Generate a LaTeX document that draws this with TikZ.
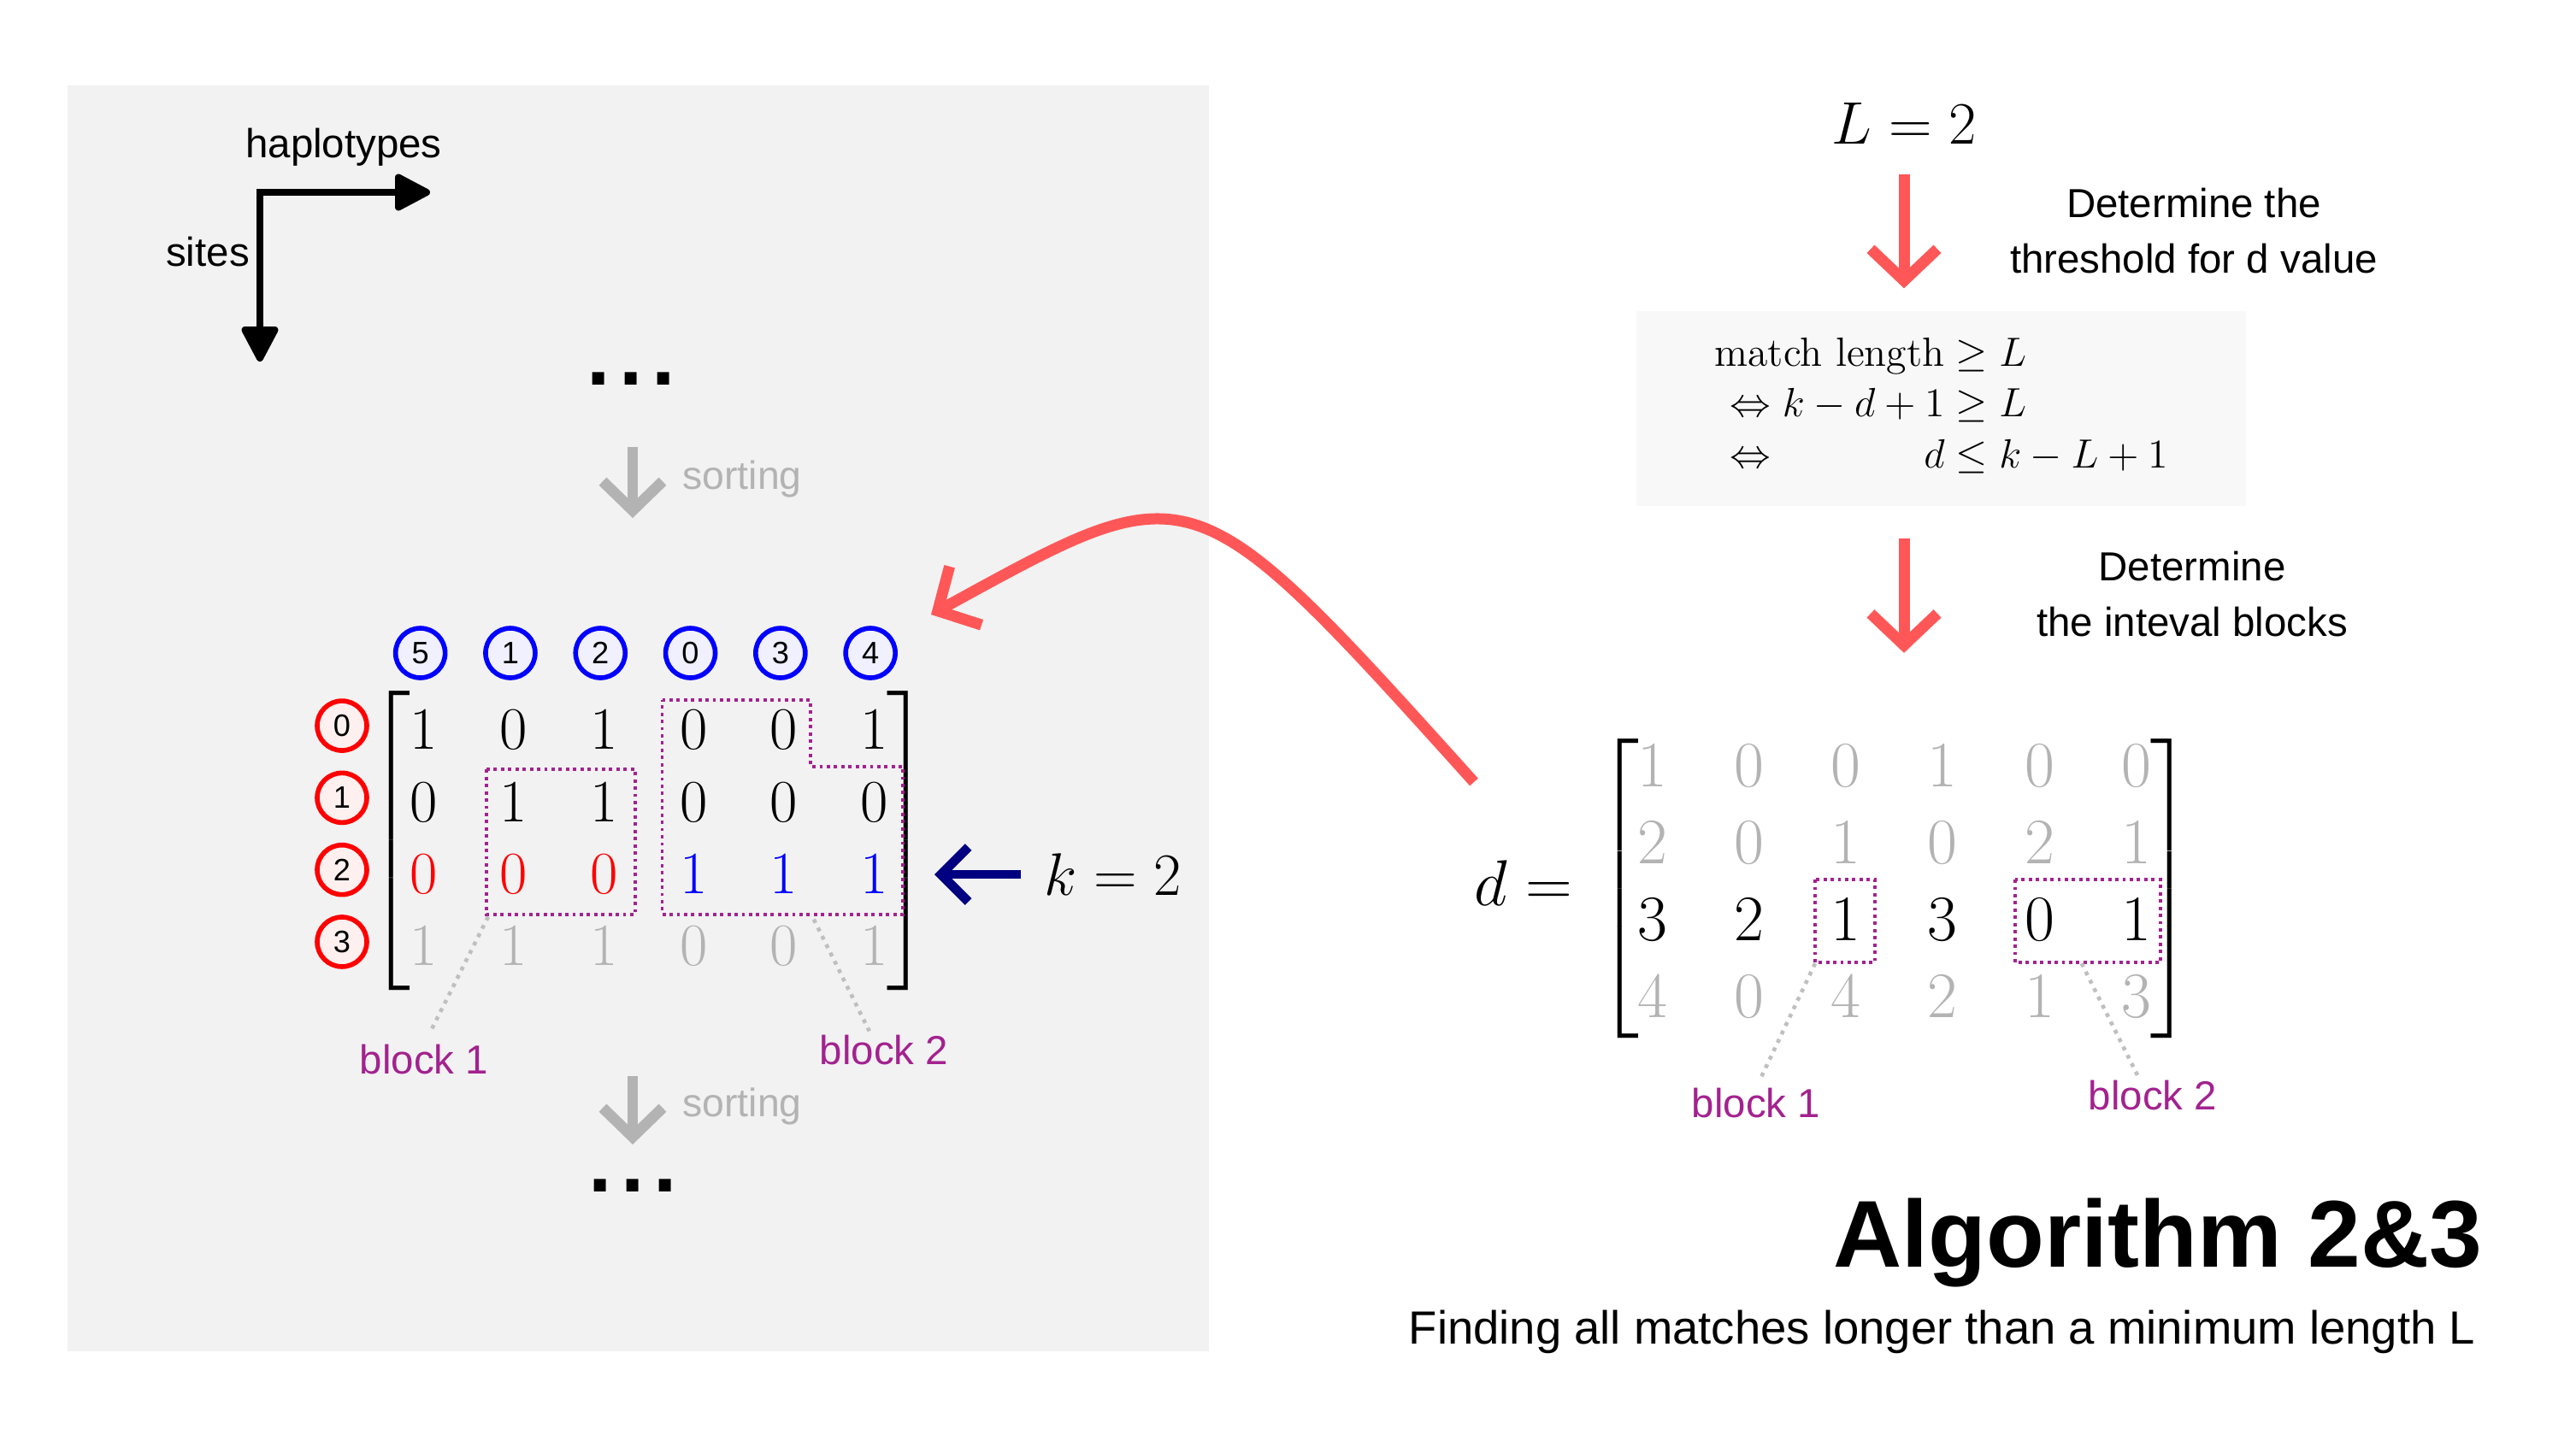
\RequirePackage{fix-cm}
\documentclass[tikz,border=0pt]{standalone}
\usepackage{amsmath}
\usepackage{fontspec}
\setsansfont{Liberation Sans}
\usetikzlibrary{arrows.meta,calc,matrix,positioning}

\definecolor{panelgray}{HTML}{F2F2F2}
\definecolor{formulagray}{HTML}{F8F8F8}
\definecolor{salmon}{HTML}{FF5757}
\definecolor{lightgray}{HTML}{B3B3B3}
\definecolor{leadergray}{HTML}{BFBFBF}
\definecolor{blockpurple}{HTML}{A3228F}
\definecolor{darknavy}{HTML}{000080}

\tikzset{
	sanstext/.style={font=\sffamily\fontsize{13.5}{18.5}\selectfont, align=center, inner sep=0pt},
	sorttext/.style={font=\sffamily\fontsize{13.2}{16}\selectfont, text=lightgray, inner sep=0pt},
	blocktext/.style={font=\sffamily\fontsize{13.5}{16}\selectfont, text=blockpurple, inner sep=0pt},
	mathbig/.style={font=\fontsize{20}{24}\selectfont, inner sep=0pt},
	dbig/.style={font=\fontsize{21.6}{26}\selectfont, inner sep=0pt},
	colcirc/.style={circle, draw=blue, fill=blue!6, line width=1.6pt, minimum size=0.58cm, inner sep=0pt, font=\sffamily\fontsize{10.3}{12}\selectfont},
	rowcirc/.style={colcirc, draw=red, fill=red!6},
	salmonarrow/.style={draw=salmon, line width=3.7pt, -{Straight Barb[length=0.37cm, width=0.78cm, sharp]}},
	sortarrow/.style={draw=lightgray, line width=3.6pt, -{Straight Barb[length=0.34cm, width=0.7cm, sharp]}},
	karrow/.style={draw=darknavy, line width=3.1pt, -{Straight Barb[length=0.32cm, width=0.64cm, sharp]}},
	axisarrow/.style={line width=2.3pt, line join=miter, {Triangle[length=0.46cm, width=0.46cm, round]}-{Triangle[length=0.46cm, width=0.46cm, round]}},
	blockline/.style={draw=blockpurple, line width=1.1pt, dash pattern=on 1.1pt off 1.3pt},
	leaderline/.style={draw=leadergray, line width=1.3pt, dash pattern=on 1.3pt off 1.8pt},
	dotrow/.style={font=\sffamily\bfseries\fontsize{28}{30}\selectfont, inner sep=0pt},
	every delimiter/.style={font=\fontsize{20}{24}\selectfont},
	hapmatrix/.style={matrix of math nodes, left delimiter={[}, right delimiter={]}, inner sep=0pt,
		column sep=0.503cm, row sep=0.123cm,
		nodes={anchor=center, minimum width=0.55cm, minimum height=0.72cm, inner sep=0pt, font=\fontsize{20}{24}\selectfont}},
	dmatrix/.style={matrix of math nodes, left delimiter={[}, right delimiter={]}, inner sep=0pt,
		column sep=0.733cm, row sep=0.023cm,
		nodes={anchor=center, minimum width=0.4cm, minimum height=0.88cm, inner sep=0pt, font=\fontsize{21.6}{26}\selectfont}},
	formulabox/.style={fill=formulagray, minimum width=7.13cm, minimum height=2.28cm, inner sep=0pt, font=\fontsize{13.6}{14}\selectfont},
}

\begin{document}
\begin{tikzpicture}
	%%%%% START %%%%%
	\useasboundingbox (0,0) rectangle (30.13,-16.99);
	
	% left panel
	\fill[panelgray] (0.79,-1.00) rectangle (14.14,-15.81);
	
	\coordinate (axcorner) at (3.04,-2.25);
	\coordinate (axright) at (5.03,-2.25);
	\coordinate (axdown) at (3.04,-4.23);
	\draw[axisarrow] (axright) -- (axcorner) -- (axdown);
	\node[sanstext] (haplo) at (4.02,-1.725) {haplotypes};
	\node[sanstext] (sites) at (2.43,-2.945) {sites};
	
	\node[dotrow] (dots1) at (7.38,-4.43) {.\hspace{3pt}.\hspace{3pt}.};
	\coordinate (sorttop1) at (7.40,-5.23);
	\coordinate (sortbot1) at (7.40,-6.06);
	\draw[sortarrow] (sorttop1) -- (sortbot1);
	\node[sorttext] (sort1) at (8.68,-5.60) {sorting};
	
	% haplotype matrix
	\begin{scope}[every left delimiter/.style={xshift=0.17cm, yshift=-0.15cm},
		every right delimiter/.style={xshift=-0.17cm, yshift=-0.15cm}]
	\matrix (hap) [hapmatrix] at (7.589,-9.805) {
		1 & 0 & 1 & 0 & 0 & 1 \\
		0 & 1 & 1 & 0 & 0 & 0 \\
		|[red]| 0 & |[red]| 0 & |[red]| 0 & |[blue]| 1 & |[blue]| 1 & |[blue]| 1 \\
		|[lightgray]| 1 & |[lightgray]| 1 & |[lightgray]| 1 & |[lightgray]| 0 & |[lightgray]| 0 & |[lightgray]| 1 \\
	};
	\end{scope}
	
	\coordinate (rowx) at (4.00,0);
	\coordinate (coly) at (0,-7.64);
	\foreach \lbl [count=\i] in {0,1,2,3}
		\node[rowcirc] (row\i) at ($(rowx |- hap-\i-1)+(0,0.05)$) {\lbl};
	\foreach \lbl [count=\j] in {5,1,2,0,3,4}
		\node[colcirc] (col\j) at ($(hap-1-\j |- coly)+(-0.04,0)$) {\lbl};
	
	\draw[blockline] ($(hap-2-2)+(-0.32,0.38)$) rectangle ($(hap-3-3)+(0.37,-0.47)$);
	\draw[blockline] ($(hap-1-4)+(-0.37,0.35)$) -- ($(hap-1-5)+(0.31,0.35)$) -- ($(hap-1-5)+(0.31,-0.425)$)
		-- ($(hap-1-6)+(0.34,-0.425)$) -- ($(hap-3-6)+(0.34,-0.47)$) -- ($(hap-3-4)+(-0.37,-0.47)$) -- cycle;
	
	\node[blocktext] (blkA1) at (4.96,-12.40) {block 1};
	\node[blocktext] (blkA2) at (10.34,-12.29) {block 2};
	\draw[leaderline, shorten >=0.15cm] ($(hap-3-2)+(-0.30,-0.50)$) -- (blkA1.north);
	\draw[leaderline, shorten >=0.05cm] ($(hap-3-5)+(0.35,-0.53)$) -- ([xshift=-0.15cm]blkA2.north);
	
	\node[mathbig] (keq) at (13.02,-10.23) {$k = 2$};
	\coordinate (ktip) at (10.93,-10.26);
	\draw[karrow, shorten <=0.27cm] (keq.west) -- (keq.west -| ktip);
	
	\coordinate (sorttop2) at (7.40,-12.59);
	\coordinate (sortbot2) at (7.40,-13.39);
	\draw[sortarrow] (sorttop2) -- (sortbot2);
	\node[sorttext] (sort2) at (8.68,-12.94) {sorting};
	\node[dotrow] (dots2) at (7.40,-13.87) {.\hspace{3pt}.\hspace{3pt}.};
	
	% right side
	\node[mathbig] (leq) at (22.27,-1.44) {$L = 2$};
	\node[sanstext] (step1) at (25.66,-2.70) {Determine the\\threshold for d value};
	
	\node[formulabox] (formula) at (22.705,-4.78) {$\begin{aligned}
		\text{match length} &\geq L\\
		\Leftrightarrow k-d+1 &\geq L\\
		\Leftrightarrow \hphantom{k-d+1}\llap{$d$} &\leq k-L+1
	\end{aligned}$\hspace{0.3cm}};
	\draw[salmonarrow, shorten <=0.35cm, shorten >=0.26cm] (leq.south) -- (leq.south |- formula.north);
	
	\node[sanstext] (step2) at (25.64,-6.955) {Determine\\the inteval blocks};
	
	\begin{scope}[every left delimiter/.style={xshift=0.10cm, yshift=-0.09cm},
		every right delimiter/.style={xshift=-0.08cm, yshift=-0.09cm}]
	\matrix (dmat) [dmatrix] at (22.157,-10.31) {
		|[lightgray]| 1 & |[lightgray]| 0 & |[lightgray]| 0 & |[lightgray]| 1 & |[lightgray]| 0 & |[lightgray]| 0 \\
		|[lightgray]| 2 & |[lightgray]| 0 & |[lightgray]| 1 & |[lightgray]| 0 & |[lightgray]| 2 & |[lightgray]| 1 \\
		3 & 2 & 1 & 3 & 0 & 1 \\
		|[lightgray]| 4 & |[lightgray]| 0 & |[lightgray]| 4 & |[lightgray]| 2 & |[lightgray]| 1 & |[lightgray]| 3 \\
	};
	\end{scope}
	\node[dbig] (deq) at (17.82,-10.33) {$d =$};
	\draw[salmonarrow, shorten <=0.37cm, shorten >=0.87cm] (leq |- formula.south) -- (leq |- dmat.north);
	
	\draw[blockline] ($(dmat-3-3)+(-0.36,0.47)$) rectangle ($(dmat-3-3)+(0.34,-0.50)$);
	\draw[blockline] ($(dmat-3-5)+(-0.29,0.47)$) rectangle ($(dmat-3-6)+(0.28,-0.50)$);
	
	\node[blocktext] (blkB1) at (20.54,-12.91) {block 1};
	\node[blocktext] (blkB2) at (25.18,-12.82) {block 2};
	\draw[leaderline, shorten >=0.15cm] ($(dmat-3-3)+(-0.36,-0.51)$) -- (blkB1.north);
	\draw[leaderline, shorten >=0.05cm] ($(dmat-3-5)+(0.49,-0.51)$) -- ([xshift=-0.15cm]blkB2.north);
	
	% curved link back to the k row
	\coordinate (curvefrom) at (17.24,-9.15);
	\coordinate (curveto) at (10.89,-7.19);
	\draw[salmonarrow] (curvefrom) .. controls (13.9,-5.44) and (13.96,-5.51) .. (curveto);
	
	\node[anchor=base east, inner sep=0pt, font=\sffamily\bfseries\fontsize{31.6}{36}\selectfont] (title) at (29.04,-14.82) {Algorithm 2\&3};
	\node[anchor=base east, inner sep=0pt, font=\sffamily\fontsize{15.5}{18}\selectfont] (subtitle) at (28.96,-15.72) {Finding all matches longer than a minimum length L};
	%%%%% END %%%%%
\end{tikzpicture}
\end{document}
